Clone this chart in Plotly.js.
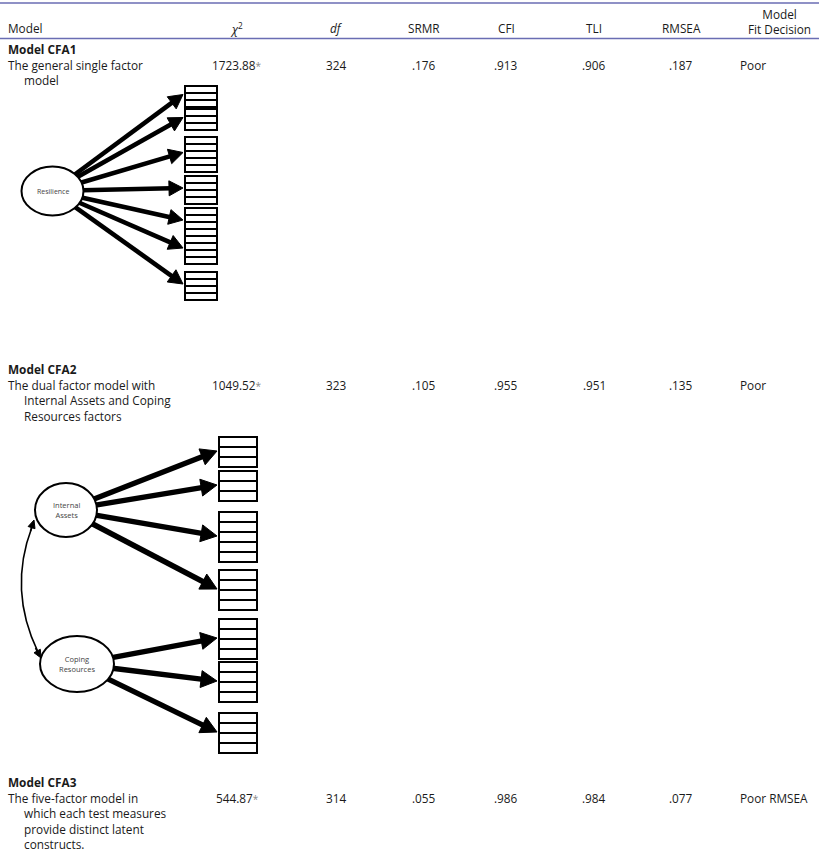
<!DOCTYPE html>
<html>
<head>
<meta charset="utf-8">
<script src="https://cdn.plot.ly/plotly-3.0.1.min.js"></script>
<style>html,body{margin:0;padding:0;background:#fff;}#chart{width:821px;height:861px;}</style>
</head>
<body>
<div id="chart"></div>
<script>
// ---------- table data ----------
const headers = ['Model', '<i>χ</i><sup>2</sup>', '<i>df</i>', 'SRMR', 'CFI', 'TLI', 'RMSEA'];
const fitHeader = 'Model<br>Fit Decision';
const models = ['Model CFA1', 'Model CFA2', 'Model CFA3'];
const descriptions = [
  ['The general single factor', 'model'],
  ['The dual factor model with', 'Internal Assets and Coping', 'Resources factors'],
  ['The five-factor model in', 'which each test measures', 'provide distinct latent', 'constructs.']
];
const chi2 = ['1723.88', '1049.52', '544.87'];
const dfs = ['324', '323', '314'];
const srmr = ['.176', '.105', '.055'];
const cfi = ['.913', '.955', '.986'];
const tli = ['.906', '.951', '.984'];
const rmsea = ['.187', '.135', '.077'];
const decision = ['Poor', 'Poor', 'Poor RMSEA'];

// ---------- diagram data ----------
const cfa1Factor = 'Resilience';
const cfa1ItemCounts = [3, 3, 5, 4, 4, 4, 4];
const cfa2Factors = ['Internal<br>Assets', 'Coping<br>Resources'];
const cfa2ItemCounts = [[3, 3, 5, 4], [4, 4, 4]];

// ---------- layout constants ----------
const W = 821, H = 861;
const FONT = 'Open Sans, Noto Sans, sans-serif';
const TXT = '#1a1a1a';
const RULE = '#6a6db3';
const colX = [6, 236, 336, 424, 506, 594, 681];
const decisionX = 738;
const fitHeaderX = 779;
const rowTop = [49, 369, 782];
const lineGap = 15.6;
const fs = 11.8;

const shapes = [];
const annotations = [];

function txt(x, y, text, opts) {
  annotations.push(Object.assign({
    x: x, y: y, xref: 'x', yref: 'y', text: text, showarrow: false,
    xanchor: 'center', yanchor: 'middle',
    font: {family: FONT, size: fs, color: TXT}
  }, opts || {}));
}

// rules
shapes.push({type: 'line', xref: 'x', yref: 'y', x0: 0, x1: 819, y0: 3, y1: 3, line: {color: RULE, width: 1.6}});
shapes.push({type: 'line', xref: 'x', yref: 'y', x0: 0, x1: 819, y0: 38.5, y1: 38.5, line: {color: RULE, width: 1.6}});

// header
headers.forEach((h, i) => {
  txt(colX[i], 28, h, i === 0 ? {xanchor: 'left'} : {});
});
txt(fitHeaderX, 21, fitHeader, {align: 'center'});

// rows
const star = "<span style='color:#888;font-size:10px'>*</span>";
models.forEach((m, r) => {
  const y0 = rowTop[r];
  txt(6, y0, '<b>' + m + '</b>', {xanchor: 'left'});
  descriptions[r].forEach((d, k) => {
    txt(k === 0 ? 6 : 22, y0 + lineGap * (k + 1), d, {xanchor: 'left'});
  });
  const yv = y0 + lineGap;
  txt(colX[1] + 1, yv, chi2[r] + star);
  txt(colX[2], yv, dfs[r]);
  txt(colX[3], yv, srmr[r]);
  txt(colX[4], yv, cfi[r]);
  txt(colX[5], yv, tli[r]);
  txt(colX[6], yv, rmsea[r]);
  txt(decisionX, yv, decision[r], {xanchor: 'left'});
});

// ---------- diagram helpers ----------
function ellipse(cx, cy, rx, ry, label, size) {
  shapes.push({type: 'circle', xref: 'x', yref: 'y', x0: cx - rx, x1: cx + rx, y0: cy - ry, y1: cy + ry,
    line: {color: '#000', width: 2}, fillcolor: '#fff'});
  annotations.push({x: cx, y: cy, xref: 'x', yref: 'y', text: label, showarrow: false,
    font: {family: FONT, size: size, color: '#444'}, align: 'center'});
}
function itemGroup(x0, x1, top, n, ch) {
  for (let i = 0; i < n; i++) {
    shapes.push({type: 'rect', xref: 'x', yref: 'y', x0: x0, x1: x1, y0: top + i * ch, y1: top + (i + 1) * ch,
      line: {color: '#000', width: 2}, fillcolor: '#fff'});
  }
  return top + n * ch / 2;
}
// arrow drawn as a line plus a filled triangular head
function arrowShape(sx, sy, tx, ty, w, len, hw) {
  const dx = tx - sx, dy = ty - sy, d = Math.sqrt(dx * dx + dy * dy);
  const ux = dx / d, uy = dy / d, px = -uy, py = ux;
  const bx = tx - ux * len, by = ty - uy * len;
  shapes.push({type: 'line', xref: 'x', yref: 'y', x0: sx, y0: sy, x1: bx + ux * 2, y1: by + uy * 2,
    line: {color: '#000', width: w}});
  shapes.push({type: 'path', xref: 'x', yref: 'y',
    path: 'M' + tx + ',' + ty + ' L' + (bx + px * hw) + ',' + (by + py * hw) + ' L' + (bx - px * hw) + ',' + (by - py * hw) + ' Z',
    fillcolor: '#000', line: {color: '#000', width: 1}});
}
function factorArrow(f, tx, ty, w, len, hw) {
  const dx = tx - f.cx, dy = ty - f.cy;
  const t = 1 / Math.sqrt((dx / f.rx) * (dx / f.rx) + (dy / f.ry) * (dy / f.ry));
  arrowShape(f.cx + dx * t * 0.97, f.cy + dy * t * 0.97, tx, ty, w, len, hw);
}

// ---------- CFA1 diagram ----------
const d1 = {f: {cx: 52.5, cy: 191, rx: 31, ry: 24.5}, bx0: 185, bx1: 217, ch: 7,
  tops: [86, 109, 137, 176, 208, 236, 272]};
const d1Centers = cfa1ItemCounts.map((n, i) => itemGroup(d1.bx0, d1.bx1, d1.tops[i], n, d1.ch));
d1Centers.forEach(c => factorArrow(d1.f, d1.bx0 - 2, c - 2, 4.6, 14, 7.5));
ellipse(d1.f.cx, d1.f.cy, d1.f.rx, d1.f.ry, cfa1Factor, 7);

// ---------- CFA2 diagram ----------
const d2 = {bx0: 219, bx1: 257, ch: 10,
  tops: [[437, 471, 512, 570], [619, 662, 713]],
  f: [{cx: 66, cy: 510, rx: 31, ry: 27}, {cx: 77, cy: 664, rx: 37, ry: 28}]};
cfa2ItemCounts.forEach((grp, fi) => {
  const f = d2.f[fi];
  grp.forEach((n, gi) => {
    const c = itemGroup(d2.bx0, d2.bx1, d2.tops[fi][gi], n, d2.ch);
    factorArrow(f, d2.bx0 - 2, c - 1, 5.4, 16, 8.5);
  });
});
// covariance curve with heads at both ends
shapes.push({type: 'path', xref: 'x', yref: 'y', path: 'M32,527 Q8,590 38,652', line: {color: '#000', width: 1.6}});
arrowShape(30.5, 531, 34, 520, 1.6, 8, 3.6);
arrowShape(35.5, 648, 41, 658, 1.6, 8, 3.6);
d2.f.forEach((f, i) => ellipse(f.cx, f.cy, f.rx, f.ry, cfa2Factors[i], 7.5));

const layout = {
  width: W, height: H,
  margin: {l: 0, r: 0, t: 0, b: 0},
  paper_bgcolor: '#fff', plot_bgcolor: '#fff',
  xaxis: {range: [0, W], visible: false, fixedrange: true},
  yaxis: {range: [H, 0], visible: false, fixedrange: true},
  showlegend: false,
  shapes: shapes,
  annotations: annotations
};
Plotly.newPlot('chart', [{x: [], y: [], type: 'scatter', hoverinfo: 'skip'}], layout, {staticPlot: true, displayModeBar: false});
</script>
</body>
</html>
